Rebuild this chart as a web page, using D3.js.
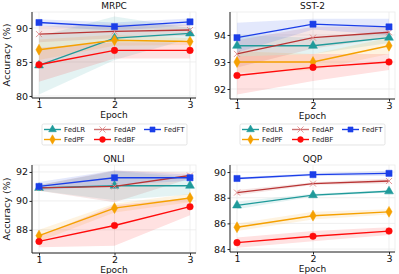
<!DOCTYPE html>
<html>
<head>
<meta charset="utf-8">
<script src="https://cdn.jsdelivr.net/npm/d3@7"></script>
<style>
  body { margin: 0; background: #fff; }
  svg { font-family: "DejaVu Sans", sans-serif; }
</style>
</head>
<body>
<script>
// data
var epochs = [1, 2, 3];
var methods = ["FedLR", "FedPF", "FedAP", "FedBF", "FedFT"];

var mrpcMean = {
  FedLR: [84.5, 88.5, 89.2], FedPF: [86.8, 88.2, 88.0], FedAP: [89.1, 89.5, 89.7],
  FedBF: [84.6, 86.7, 86.7], FedFT: [90.8, 90.2, 90.9]
};
var mrpcStd = {
  FedLR: [4.3, 3.2, 0.8], FedPF: [1.5, 0.8, 0.5], FedAP: [1.2, 1.0, 0.8],
  FedBF: [2.5, 1.2, 1.2], FedFT: [0.5, 0.6, 0.5]
};
var sstMean = {
  FedLR: [93.6, 93.6, 93.9], FedPF: [93.0, 93.0, 93.6], FedAP: [93.3, 93.9, 94.1],
  FedBF: [92.5, 92.8, 93.0], FedFT: [93.9, 94.4, 94.3]
};
var sstStd = {
  FedLR: [0.4, 0.3, 0.2], FedPF: [0.4, 0.3, 0.3], FedAP: [0.5, 0.4, 0.2],
  FedBF: [0.7, 0.5, 0.3], FedFT: [0.55, 0.2, 0.3]
};
var qnliMean = {
  FedLR: [90.9, 91.05, 91.05], FedPF: [87.6, 89.5, 90.2], FedAP: [90.9, 91.0, 91.75],
  FedBF: [87.2, 88.3, 89.6], FedFT: [91.0, 91.6, 91.6]
};
var qnliStd = {
  FedLR: [0.2, 1.0, 0.6], FedPF: [0.4, 0.3, 0.3], FedAP: [0.2, 1.1, 0.2],
  FedBF: [0.4, 1.4, 0.6], FedFT: [0.3, 0.5, 0.2]
};
var qqpMean = {
  FedLR: [87.4, 88.2, 88.5], FedPF: [85.7, 86.6, 86.9], FedAP: [88.4, 89.1, 89.3],
  FedBF: [84.5, 85.0, 85.4], FedFT: [89.5, 89.8, 89.9]
};
var qqpStd = {
  FedLR: [0.3, 0.1, 0.1], FedPF: [0.3, 0.3, 0.2], FedAP: [0.2, 0.1, 0.2],
  FedBF: [0.4, 0.4, 0.3], FedFT: [0.1, 0.1, 0.2]
};

var mrpcTicks = [80, 85, 90];
var sstTicks = [92, 93, 94];
var qnliTicks = [88, 90, 92];
var qqpTicks = [84, 86, 88, 90];

var colors = { FedLR: "#1f9a9a", FedPF: "#f5a000", FedAP: "#b83434", FedBF: "#ff0a0a", FedFT: "#1b3ee8" };
var shapes = { FedLR: d3.symbolTriangle, FedPF: d3.symbolDiamond, FedAP: d3.symbolCross, FedBF: d3.symbolCircle, FedFT: d3.symbolSquare };

var panels = [
  { title: "MRPC", mean: mrpcMean, std: mrpcStd, ticks: mrpcTicks, dom: [79.7, 92.35], box: [32, 196, 12, 98], ylab: true },
  { title: "SST-2", mean: sstMean, std: sstStd, ticks: sstTicks, dom: [91.63, 94.85], box: [230, 395, 12, 99], ylab: false },
  { title: "QNLI", mean: qnliMean, std: qnliStd, ticks: qnliTicks, dom: [86.4, 92.48], box: [32, 196, 165, 253], ylab: true },
  { title: "QQP", mean: qqpMean, std: qqpStd, ticks: qqpTicks, dom: [83.77, 90.55], box: [230, 395, 165, 252], ylab: false }
];

var svg = d3.select("body").append("svg")
  .attr("width", 399)
  .attr("height", 274);

function marker(g, m, size) {
  if (m == "FedAP") {
    g.append("path")
      .attr("d", "M-3,-3L3,3M-3,3L3,-3")
      .attr("stroke", "#e08a8a").attr("stroke-width", 0.9).attr("fill", "none");
  } else {
    g.append("path")
      .attr("d", d3.symbol().type(shapes[m]).size(size))
      .attr("fill", colors[m]).attr("stroke", colors[m]).attr("stroke-width", 0.5);
  }
}

panels.forEach(function (p) {
  var l = p.box[0], r = p.box[1], t = p.box[2], b = p.box[3];
  var x = d3.scaleLinear().domain([1, 3]).range([l + 7, r - 6]);
  var y = d3.scaleLinear().domain(p.dom).range([b, t]);
  var g = svg.append("g");

  // grid
  g.selectAll(".gy").data(p.ticks).enter().append("line")
    .attr("x1", l).attr("x2", r).attr("y1", d => y(d)).attr("y2", d => y(d))
    .attr("stroke", "#ebebeb").attr("stroke-width", 0.8);
  g.selectAll(".gx").data(epochs).enter().append("line")
    .attr("y1", t).attr("y2", b).attr("x1", d => x(d)).attr("x2", d => x(d))
    .attr("stroke", "#ebebeb").attr("stroke-width", 0.8);
  g.append("rect").attr("x", l).attr("y", t).attr("width", r - l).attr("height", b - t)
    .attr("fill", "none").attr("stroke", "#ebebeb").attr("stroke-width", 0.8);

  // bands
  methods.forEach(function (m) {
    var area = d3.area()
      .x((d, i) => x(epochs[i]))
      .y0((d, i) => y(d - p.std[m][i]))
      .y1((d, i) => y(d + p.std[m][i]));
    g.append("path").attr("d", area(p.mean[m]))
      .attr("fill", colors[m]).attr("fill-opacity", 0.12);
  });

  // lines + markers
  methods.forEach(function (m) {
    var line = d3.line().x((d, i) => x(epochs[i])).y(d => y(d));
    g.append("path").attr("d", line(p.mean[m]))
      .attr("fill", "none").attr("stroke", colors[m]).attr("stroke-width", 1.4);
    p.mean[m].forEach(function (v, i) {
      var mg = g.append("g").attr("transform", "translate(" + x(epochs[i]) + "," + y(v) + ")");
      marker(mg, m, m == "FedFT" ? 38 : 34);
    });
  });

  // axes
  var ax = g.append("g").attr("transform", "translate(0," + b + ")")
    .call(d3.axisBottom(x).tickValues(epochs).tickFormat(d3.format("d")).tickSize(2.5).tickPadding(1));
  var ay = g.append("g").attr("transform", "translate(" + l + ",0)")
    .call(d3.axisLeft(y).tickValues(p.ticks).tickFormat(d3.format("d")).tickSize(2.5).tickPadding(1.5));
  [ax, ay].forEach(function (a) {
    a.select(".domain").attr("stroke", "#222").attr("stroke-width", 1);
    a.selectAll(".tick line").attr("stroke", "#222");
    a.selectAll("text").attr("font-size", "9.5px").attr("fill", "#111")
      .attr("font-family", "DejaVu Sans, sans-serif");
  });
  ax.select(".domain").attr("d", "M" + l + ",0H" + r);
  ay.select(".domain").attr("d", "M0," + t + "V" + b);

  g.append("text").attr("x", (l + r) / 2).attr("y", t - 3)
    .attr("text-anchor", "middle").attr("font-size", "9px").attr("fill", "#111").text(p.title);
  g.append("text").attr("x", (l + r) / 2).attr("y", b + 19.5)
    .attr("text-anchor", "middle").attr("font-size", "9px").attr("fill", "#111").text("Epoch");
  if (p.ylab) {
    g.append("text")
      .attr("transform", "translate(10," + ((t + b) / 2) + ")rotate(-90)")
      .attr("text-anchor", "middle").attr("font-size", "9.5px").attr("fill", "#111").text("Accuracy (%)");
  }
});

// legends
var legendOrder = [["FedLR", "FedPF"], ["FedAP", "FedBF"], ["FedFT"]];
[42, 240].forEach(function (lx) {
  var lg = svg.append("g").attr("transform", "translate(" + lx + ",124)");
  lg.append("rect").attr("width", 145).attr("height", 21).attr("rx", 1.5)
    .attr("fill", "#fff").attr("stroke", "#d8d8d8").attr("stroke-width", 0.7);
  legendOrder.forEach(function (col, ci) {
    col.forEach(function (m, ri) {
      var cx = 2 + ci * 50, cy = 5.5 + ri * 10;
      lg.append("line").attr("x1", cx).attr("x2", cx + 17).attr("y1", cy).attr("y2", cy)
        .attr("stroke", colors[m]).attr("stroke-width", 1.4).attr("stroke-opacity", m == "FedAP" ? 0.7 : 1);
      var mg = lg.append("g").attr("transform", "translate(" + (cx + 8.5) + "," + cy + ")");
      marker(mg, m, 26);
      lg.append("text").attr("x", cx + 20).attr("y", cy + 2.5)
        .attr("font-size", "7px").attr("fill", "#222").text(m);
    });
  });
});
</script>
</body>
</html>
